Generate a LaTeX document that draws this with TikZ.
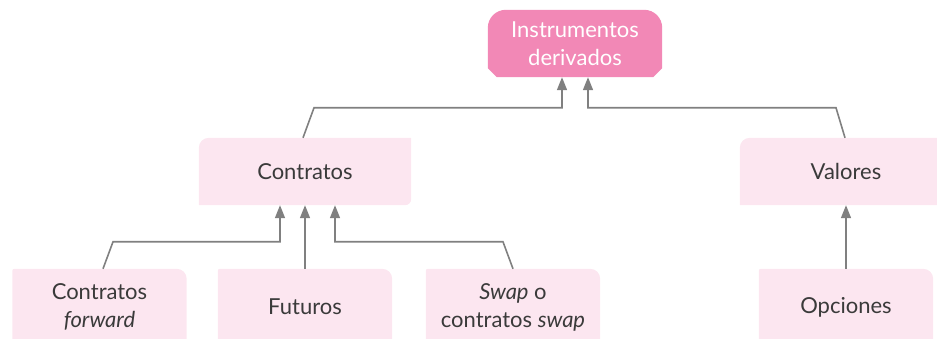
\documentclass[tikz,border=0pt]{standalone}
\usepackage{fontspec}
\setmainfont{Lato}
\usetikzlibrary{arrows.meta,backgrounds}
\definecolor{toppink}{HTML}{F288B6}
\definecolor{lightpink}{HTML}{FCE6F0}
\definecolor{linegray}{HTML}{808080}
\definecolor{txtgray}{HTML}{3A3A3A}
\tikzset{
  box/.style={rectangle, inner sep=0pt, align=center, text=txtgray,
    font=\fontsize{22}{28}\selectfont},
  topbox/.style={box, text=white, minimum width=174pt, minimum height=67pt},
  midbox/.style={box, minimum width=212pt, minimum height=67pt},
  lowbox/.style={box, minimum width=174pt, minimum height=76pt},
  conn/.style={draw=linegray, line width=1.6pt,
    -{Triangle[length=13pt,width=10pt]}, color=linegray},
}
\newcommand{\midshape}[1]{%
  \fill[lightpink] (#1.south west) -- ([yshift=-10pt]#1.north west) arc(180:90:10pt)
    -- (#1.north east) -- ([yshift=6pt]#1.south east) arc(0:-90:6pt) -- cycle;}
\newcommand{\lowshape}[1]{%
  \fill[lightpink] (#1.south west) -- ([yshift=-2pt]#1.north west) arc(180:90:2pt)
    -- ([xshift=-10pt]#1.north east) arc(90:0:10pt) -- (#1.south east) -- cycle;}
\begin{document}
\begin{tikzpicture}[x=1pt,y=1pt]
\useasboundingbox (0,0) rectangle (937,339);
\node[topbox] (top) at (575,295.5) {Instrumentos\\derivados};
\node[midbox] (con) at (305,167.5) {Contratos};
\node[midbox] (val) at (846,167.5) {Valores};
\node[lowbox] (cf) at (99.5,32) {Contratos\\\itshape forward};
\node[lowbox] (fut) at (305,32) {Futuros};
\node[lowbox] (swp) at (513,32) {{\itshape Swap} o\\contratos {\itshape swap}};
\node[lowbox] (opc) at (846,32) {Opciones};
\begin{scope}[on background layer]
\fill[toppink] ([yshift=9pt]top.south west) -- ([xshift=9pt]top.south west)
  -- ([xshift=-9pt]top.south east) -- ([yshift=9pt]top.south east)
  -- ([yshift=-18pt]top.north east) arc(0:90:18pt)
  -- ([xshift=18pt]top.north west) arc(90:180:18pt) -- cycle;
\midshape{con}
\midshape{val}
\lowshape{cf}
\lowshape{fut}
\lowshape{swp}
\lowshape{opc}
\end{scope}
\draw[conn] ([xshift=-2pt]con.north) -- ++(11pt,30pt) -| ([xshift=-13pt]top.south);
\draw[conn] ([xshift=-1pt]val.north) -- ++(-9pt,30pt) -| ([xshift=13pt]top.south);
\draw[conn] ([xshift=3.5pt]cf.north) -- ++(10pt,27pt) -| ([xshift=-25pt]con.south);
\draw[conn] (fut.north) -- (con.south);
\draw[conn] (swp.north) -- ++(-10pt,27pt) -| ([xshift=30pt]con.south);
\draw[conn] (opc.north) -- (val.south);
\end{tikzpicture}
\end{document}
